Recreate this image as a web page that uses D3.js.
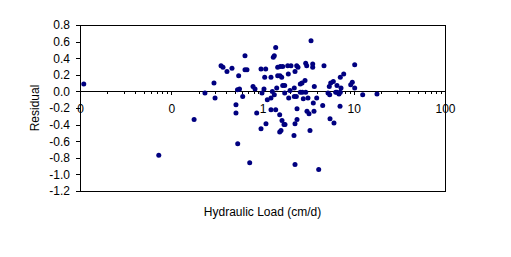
<!DOCTYPE html>
<html>
<head>
<meta charset="utf-8">
<script src="https://cdn.jsdelivr.net/npm/d3@7"></script>
<style>
  body { margin: 0; background: #fff; }
  svg { display: block; font-family: "Liberation Sans", Arial, sans-serif; }
  .axis path, .axis line, .frame { shape-rendering: crispEdges; }
</style>
</head>
<body>
<div id="chart"></div>
<script>
var width = 511,
  height = 257;

// hydraulic load (cm/d)
var load = [
  0.011, 0.073, 0.178, 0.234, 0.294, 0.302, 0.351, 0.369, 0.408, 0.463,
  0.548, 0.643, 0.643, 0.676, 0.512, 0.512, 0.532, 0.560, 0.607, 0.535,
  0.724, 0.787, 0.828, 0.864, 0.963, 1.084, 0.987, 1.038, 1.057, 1.239,
  1.313, 1.347, 1.395, 1.467, 1.567, 1.665, 1.467, 1.555, 1.623, 1.665,
  1.751, 1.431, 1.281, 1.129, 1.239, 1.347, 1.239, 1.395, 1.543, 1.636,
  1.720, 1.092, 0.963, 1.595, 1.543, 1.751, 1.889, 2.052, 2.371, 2.449,
  2.271, 1.918, 2.002, 2.231, 2.231, 2.347, 1.937, 2.596, 2.731, 2.596,
  2.710, 2.923, 2.974, 3.050, 3.401, 3.549, 3.549, 2.974, 2.800, 3.152,
  3.696, 3.926, 3.603, 4.568, 4.720, 2.389, 3.073, 3.233, 3.667, 2.389,
  2.271, 1.764, 3.315, 2.214, 2.271, 4.129, 5.493, 6.075, 7.070, 5.223,
  5.451, 5.395, 5.589, 5.969, 6.341, 6.552, 6.552, 6.892, 7.121, 7.249,
  7.121, 7.761, 9.26, 9.64, 10.24, 10.24, 12.53, 17.98
];

var residual = [
  0.09, -0.77, -0.34, -0.02, 0.10, -0.08, 0.31, 0.29, 0.24, 0.28,
  0.19, 0.43, 0.26, 0.26, -0.16, -0.26, 0.02, 0.03, -0.06, -0.63,
  -0.86, 0.06, 0.03, -0.26, 0.27, 0.27, -0.02, 0.03, 0.17, 0.17,
  0.41, 0.43, 0.53, 0.29, 0.30, 0.30, 0.19, 0.19, 0.17, 0.07,
  0.07, 0.04, 0.00, -0.10, -0.08, -0.04, -0.22, -0.22, -0.28, -0.35,
  -0.40, -0.39, -0.45, -0.47, -0.49, -0.02, 0.31, 0.31, 0.31, 0.29,
  0.24, 0.21, 0.01, 0.04, -0.06, -0.06, -0.08, -0.01, -0.01, 0.09,
  0.10, 0.13, 0.34, 0.31, 0.61, 0.33, 0.29, -0.01, -0.09, -0.08,
  0.06, -0.08, -0.14, -0.17, 0.31, -0.21, -0.24, -0.27, -0.24, -0.34,
  -0.39, -0.40, -0.47, -0.53, -0.88, -0.94, -0.33, -0.38, -0.18, -0.02,
  -0.04, 0.06, 0.10, 0.12, -0.01, -0.01, 0.07, -0.03, -0.01, 0.04,
  0.17, 0.21, 0.08, 0.11, 0.32, 0.04, -0.04, -0.03
];

var xMajor = [0.01, 0.1, 1, 10, 100];
var xMajorLabels = ['0', '0', '1', '10', '100'];
var yTicks = [0.8, 0.6, 0.4, 0.2, 0.0, -0.2, -0.4, -0.6, -0.8, -1.0, -1.2];

var points = load.map(function (d, i) {
  return { x: d, y: residual[i] };
});

var plotLeft = 80, plotRight = 445, plotTop = 25, plotBottom = 191;

var x = d3.scaleLog()
  .domain([0.01, 100])
  .range([plotLeft, plotRight]);

var y = d3.scaleLinear()
  .domain([-1.2, 0.8])
  .range([plotBottom, plotTop]);

var svg = d3.select('#chart')
  .append('svg')
  .attr('width', width)
  .attr('height', height);

svg.append('rect')
  .attr('width', width)
  .attr('height', height)
  .attr('fill', '#fff');

// plot frame
svg.append('rect')
  .attr('class', 'frame')
  .attr('x', plotLeft)
  .attr('y', plotTop)
  .attr('width', plotRight - plotLeft)
  .attr('height', plotBottom - plotTop)
  .attr('fill', 'none')
  .attr('stroke', '#000');

// y axis
svg.append('g')
  .attr('class', 'axis')
  .attr('transform', 'translate(' + plotLeft + ',0)')
  .call(d3.axisLeft(y)
    .tickValues(yTicks)
    .tickSize(4)
    .tickSizeOuter(0)
    .tickPadding(6)
    .tickFormat(function (d) { return d.toFixed(1); }));

// x axis sits on residual = 0
var x0 = Math.round(y(0));

var minor = [];
xMajor.slice(0, -1).forEach(function (m) {
  for (var k = 2; k < 10; k++) minor.push(m * k);
});

svg.append('g')
  .attr('class', 'axis')
  .attr('transform', 'translate(0,' + x0 + ')')
  .call(d3.axisBottom(x)
    .tickValues(minor)
    .tickSize(3)
    .tickSizeOuter(0)
    .tickFormat(''));

svg.append('g')
  .attr('class', 'axis')
  .attr('transform', 'translate(0,' + x0 + ')')
  .call(d3.axisBottom(x)
    .tickValues(xMajor)
    .tickSize(4)
    .tickSizeOuter(0)
    .tickPadding(9)
    .tickFormat(function (d, i) { return xMajorLabels[i]; }));

svg.selectAll('.axis path, .axis line')
  .attr('stroke', '#000');

svg.selectAll('.axis')
  .attr('font-family', null)
  .attr('font-size', null);

svg.selectAll('.axis text')
  .attr('fill', '#000')
  .style('font-size', '12px');

// points
svg.append('g')
  .selectAll('circle')
  .data(points)
  .enter()
  .append('circle')
  .attr('cx', function (d) { return x(d.x); })
  .attr('cy', function (d) { return y(d.y); })
  .attr('r', 2.5)
  .attr('fill', '#000080');

// axis titles
svg.append('text')
  .attr('x', (plotLeft + plotRight) / 2)
  .attr('y', 216)
  .attr('text-anchor', 'middle')
  .style('font-size', '12px')
  .text('Hydraulic Load (cm/d)');

svg.append('text')
  .attr('transform', 'translate(39,' + (plotTop + plotBottom) / 2 + ') rotate(-90)')
  .attr('text-anchor', 'middle')
  .style('font-size', '12px')
  .text('Residual');
</script>
</body>
</html>
